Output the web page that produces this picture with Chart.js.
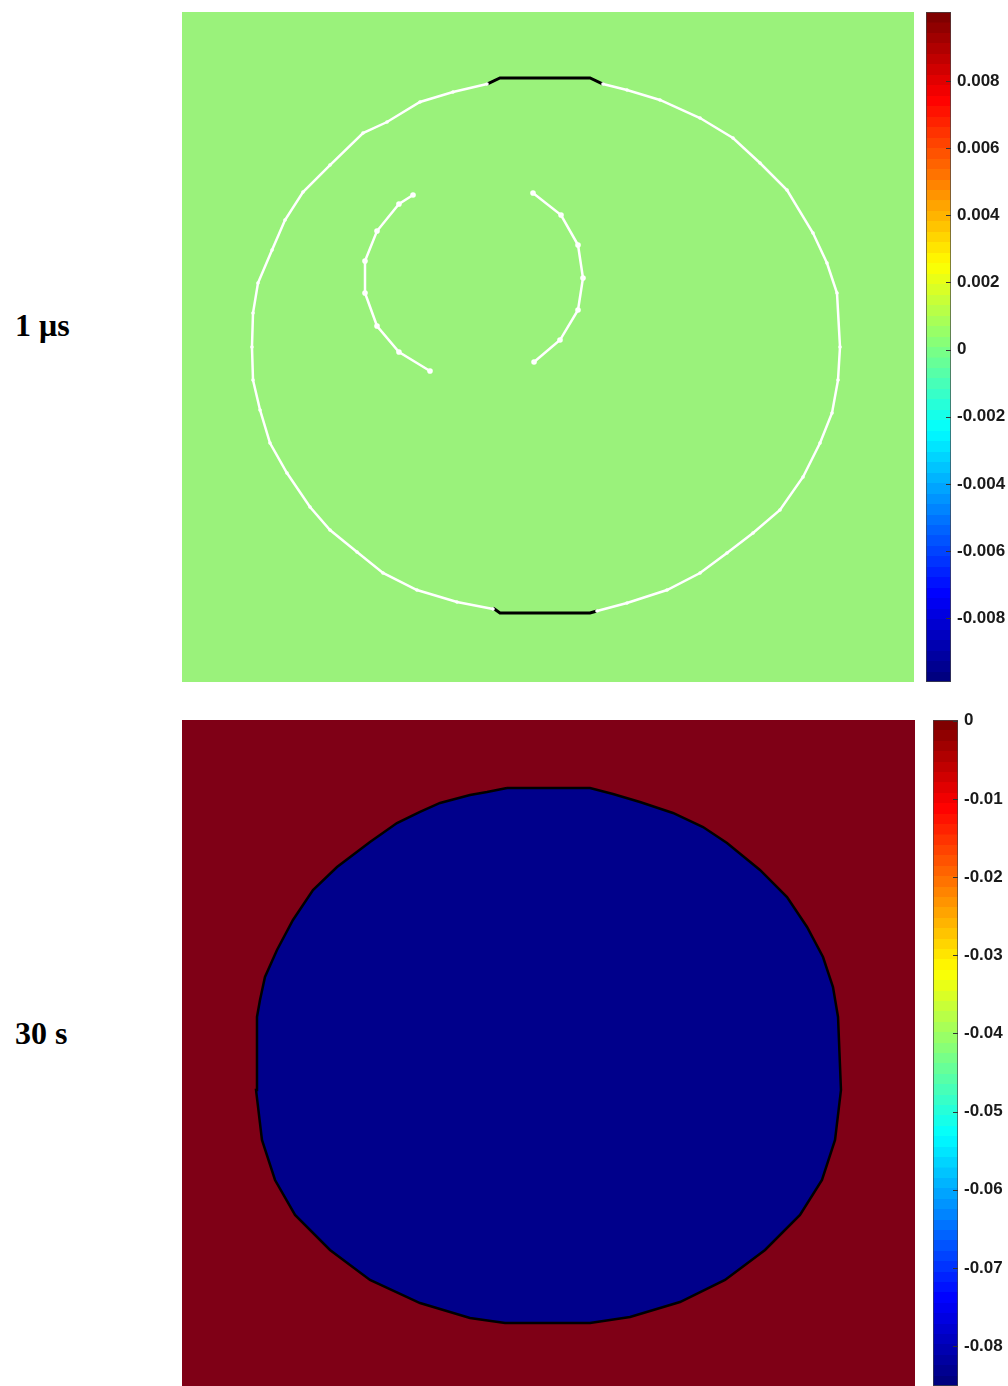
<!DOCTYPE html>
<html>
<head>
<meta charset="utf-8">
<script src="https://cdn.jsdelivr.net/npm/chart.js@4.4.1/dist/chart.umd.min.js"></script>
<style>
  body { margin: 0; background: #fff; width: 1008px; height: 1386px; position: relative; overflow: hidden; }
  canvas { position: absolute; }
  .lab { position: absolute; left: 15px; font: bold 32px "Liberation Serif", "Times New Roman", serif; line-height: 40px; color: #000; }
</style>
</head>
<body>
<div class="lab" style="top:305px">1 μs</div>
<div class="lab" style="top:1013px">30 s</div>

<canvas id="plot1" width="732" height="670" style="left:182px;top:12px"></canvas>
<canvas id="bar1" width="82" height="700" style="left:926px;top:0px"></canvas>
<canvas id="plot2" width="733" height="666" style="left:182px;top:720px"></canvas>
<canvas id="bar2" width="75" height="686" style="left:933px;top:700px"></canvas>

<script>
// domain is 0..100 in both directions for both panels

// 1 us panel: outer ring (white) split in two halves
var ringRightX = [57.51, 60.79, 65.30, 70.77, 75.27, 78.96, 82.65, 86.20, 88.11, 89.48, 89.89, 89.62, 88.80, 87.16, 84.84, 81.69, 78.01, 74.45, 70.77, 66.26, 60.79, 56.69];
var ringRightY = [89.25, 88.36, 86.87, 84.18, 81.19, 77.46, 73.43, 67.01, 62.54, 58.06, 50.00, 45.07, 40.15, 35.67, 30.60, 25.67, 22.24, 19.25, 16.27, 13.73, 11.79, 10.60];
var ringLeftX = [42.49, 37.57, 32.10, 27.46, 23.91, 20.22, 17.49, 14.34, 12.02, 10.66, 9.70, 9.56, 9.70, 10.38, 12.30, 14.07, 16.53, 20.22, 24.73, 28.01, 32.51, 37.02, 41.67];
var ringLeftY = [10.90, 11.94, 13.73, 16.27, 19.40, 22.69, 26.12, 31.19, 35.67, 40.60, 45.07, 50.00, 55.07, 59.55, 64.48, 68.96, 73.13, 77.16, 81.94, 83.58, 86.57, 88.06, 89.25];

// black flat pieces at top and bottom of the ring
var capTopX = [41.67, 43.44, 55.74, 57.51];
var capTopY = [89.25, 90.15, 90.15, 89.25];
var capBotX = [42.49, 43.44, 55.74, 56.69];
var capBotY = [11.04, 10.30, 10.30, 10.60];

// inner arcs
var arcLeftX = [31.56, 29.64, 26.64, 25.00, 25.00, 26.64, 29.64, 33.88];
var arcLeftY = [72.69, 71.34, 67.31, 62.84, 58.06, 53.13, 49.25, 46.42];
var arcRightX = [47.95, 51.78, 54.10, 54.78, 54.10, 51.64, 48.09];
var arcRightY = [72.99, 69.70, 65.22, 60.30, 55.52, 51.04, 47.76];

// 30 s panel: outline of the blue region
var diskX = [44.34, 55.66, 58.80, 62.48, 66.98, 71.08, 74.35, 78.85, 82.54, 85.27, 87.45, 88.81, 89.50, 89.90, 89.09, 87.31, 84.31, 79.54, 74.08, 67.94, 61.12, 55.66, 44.07, 39.29, 32.47, 25.65, 20.19, 15.42, 12.69, 10.91, 10.10, 10.23, 10.64, 11.32, 12.96, 15.14, 17.87, 21.15, 25.65, 29.33, 32.47, 35.20, 39.29, 41.61, 44.34];
var diskY = [89.79, 89.79, 88.89, 87.69, 86.04, 83.93, 81.53, 77.48, 73.42, 68.92, 64.41, 59.91, 55.41, 44.44, 36.94, 30.93, 25.68, 20.42, 15.92, 12.61, 10.36, 9.46, 9.46, 10.21, 12.46, 15.92, 20.42, 25.68, 30.93, 36.94, 44.44, 55.41, 57.96, 61.41, 65.47, 69.97, 74.47, 77.93, 81.68, 84.53, 86.19, 87.54, 88.74, 89.19, 89.79];

// colorbars
var cb1Range = [-0.0099, 0.01005];
var cb1Ticks = [0.008, 0.006, 0.004, 0.002, 0, -0.002, -0.004, -0.006, -0.008];
var cb2Range = [-0.0851, 0.0001];
var cb2Ticks = [0, -0.01, -0.02, -0.03, -0.04, -0.05, -0.06, -0.07, -0.08];

function pts(xs, ys) {
    return xs.map(function (x, i) {
        return {x: x, y: ys[i]};
    });
}

var plotBg = {
    id: 'plotBg',
    beforeDraw: function (chart, args, opts) {
        var a = chart.chartArea, c = chart.ctx;
        c.save();
        c.fillStyle = opts.color;
        c.fillRect(a.left, a.top, a.width, a.height);
        c.restore();
    }
};

// matlab style ticks pointing into the bar
var innerTicks = {
    id: 'innerTicks',
    afterDraw: function (chart) {
        var s = chart.scales.y, a = chart.chartArea, c = chart.ctx;
        c.save();
        c.strokeStyle = '#333';
        c.lineWidth = 1;
        s.ticks.forEach(function (t) {
            var y = Math.round(s.getPixelForValue(t.value)) + 0.5;
            c.beginPath();
            c.moveTo(a.right - 5, y);
            c.lineTo(a.right, y);
            c.stroke();
        });
        c.restore();
    }
};

function clamp(v) {
    return Math.max(0, Math.min(1, v));
}

function jet(t) {
    var r = clamp(1.5 - Math.abs(4 * t - 3));
    var g = clamp(1.5 - Math.abs(4 * t - 2));
    var b = clamp(1.5 - Math.abs(4 * t - 1));
    return 'rgb(' + Math.round(r * 255) + ',' + Math.round(g * 255) + ',' + Math.round(b * 255) + ')';
}

function jetGradient(ctx) {
    var chart = ctx.chart, a = chart.chartArea;
    if (!a) return '#888';
    var g = chart.ctx.createLinearGradient(0, a.bottom, 0, a.top);
    var n = 64;
    for (var i = 0; i < n; i++) {
        var col = jet(i / (n - 1));
        g.addColorStop(i / n, col);
        g.addColorStop((i + 1) / n - 0.0001, col);
    }
    return g;
}

function plotChart(id, datasets, bg) {
    return new Chart(document.getElementById(id), {
        type: 'scatter',
        data: {datasets: datasets},
        options: {
            responsive: false,
            animation: false,
            layout: {padding: 0, autoPadding: false},
            scales: {
                x: {type: 'linear', display: false, min: 0, max: 100},
                y: {type: 'linear', display: false, min: 0, max: 100}
            },
            plugins: {
                legend: {display: false},
                tooltip: {enabled: false},
                plotBg: {color: bg}
            }
        },
        plugins: [plotBg]
    });
}

function colorbar(id, range, ticks, pad) {
    return new Chart(document.getElementById(id), {
        type: 'bar',
        data: {
            labels: [''],
            datasets: [{
                data: [range],
                backgroundColor: jetGradient,
                borderColor: '#444',
                borderWidth: 1,
                borderSkipped: false,
                barPercentage: 1,
                categoryPercentage: 1
            }]
        },
        options: {
            responsive: false,
            animation: false,
            layout: {padding: pad, autoPadding: false},
            scales: {
                x: {display: false},
                y: {
                    position: 'right',
                    min: range[0],
                    max: range[1],
                    grid: {display: false, drawTicks: false},
                    border: {display: false},
                    ticks: {
                        padding: 6,
                        color: '#1a1a1a',
                        font: {family: '"Liberation Sans", Arial, sans-serif', size: 17, weight: 'bold'},
                        callback: function (v) { return String(v); }
                    },
                    afterBuildTicks: function (s) {
                        s.ticks = ticks.map(function (v) { return {value: v}; });
                    },
                    afterFit: function (s) {
                        s.width = document.getElementById(id).width - 25;
                        s.paddingTop = 0;
                        s.paddingBottom = 0;
                    }
                }
            },
            plugins: {legend: {display: false}, tooltip: {enabled: false}}
        },
        plugins: [innerTicks]
    });
}

var whiteLine = {showLine: true, borderColor: '#fff', backgroundColor: '#fff', borderWidth: 2.5, pointRadius: 1.8, pointBorderWidth: 0, tension: 0};
var arcLine = {showLine: true, borderColor: '#fff', backgroundColor: '#fff', borderWidth: 2.5, pointRadius: 2.8, pointBorderWidth: 0, tension: 0};
var blackLine = {showLine: true, borderColor: '#000', backgroundColor: '#000', borderWidth: 3, pointRadius: 0, tension: 0};

plotChart('plot1', [
    Object.assign({data: pts(ringRightX, ringRightY)}, whiteLine),
    Object.assign({data: pts(ringLeftX, ringLeftY)}, whiteLine),
    Object.assign({data: pts(capTopX, capTopY)}, blackLine),
    Object.assign({data: pts(capBotX, capBotY)}, blackLine),
    Object.assign({data: pts(arcLeftX, arcLeftY)}, arcLine),
    Object.assign({data: pts(arcRightX, arcRightY)}, arcLine)
], '#9af27b');

plotChart('plot2', [{
    data: pts(diskX, diskY),
    showLine: true,
    fill: 'shape',
    backgroundColor: '#00008b',
    borderColor: '#000',
    borderWidth: 2.5,
    pointRadius: 0,
    tension: 0
}], '#7f0016');

colorbar('bar1', cb1Range, cb1Ticks, {top: 12, bottom: 18, left: 0, right: 0});
colorbar('bar2', cb2Range, cb2Ticks, {top: 20, bottom: 0, left: 0, right: 0});
</script>
</body>
</html>
